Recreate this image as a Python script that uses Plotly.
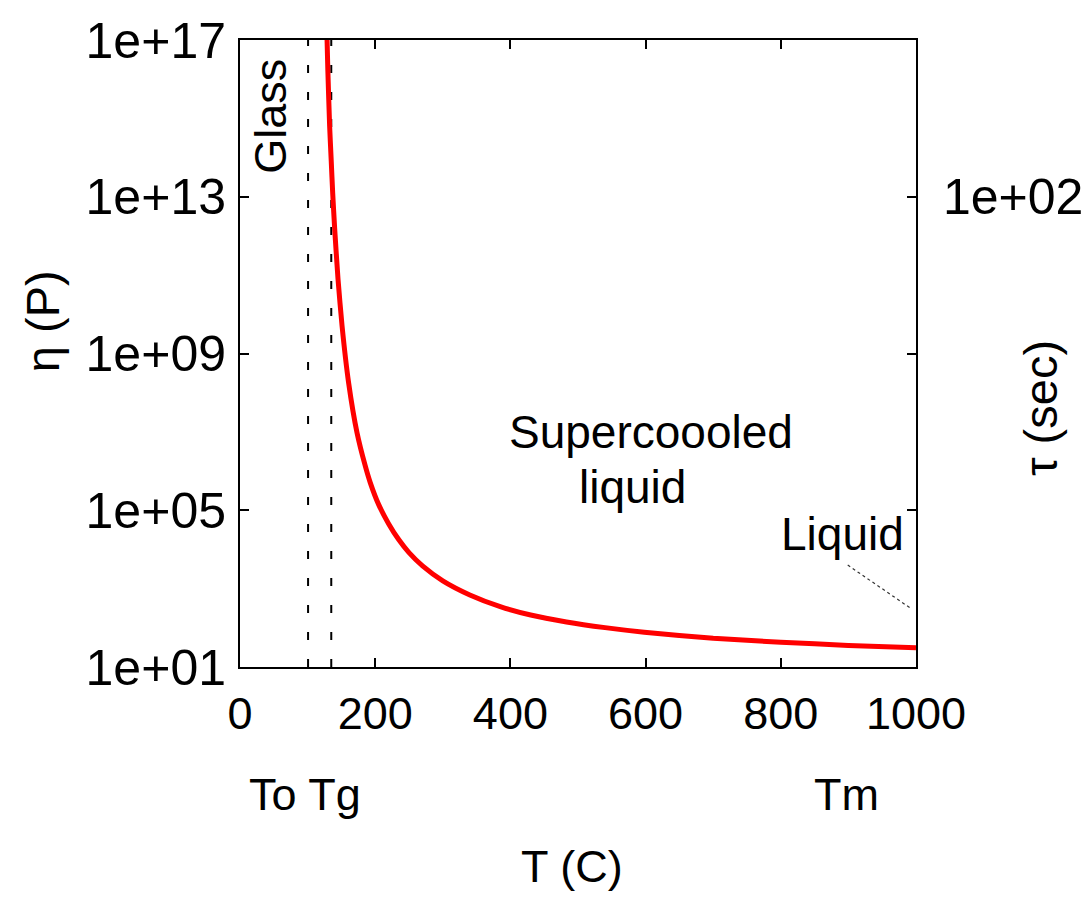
import plotly.graph_objects as go

# Curve values: temperature (C) and viscosity (P)
T_curve = [128.8, 130.0, 132.6, 135.0, 137.1, 140.0, 145.0, 151.0, 160.7, 173.1, 185.0,
           192.8, 205.0, 220.0, 235.0, 250.0, 270.0, 300.0, 340.0, 385.0, 430.0,
           483.0, 540.0, 598.0, 700.0, 800.0, 900.0, 1000.0]
eta_curve = [1e17, 1.58e16, 6.3e14, 7.9e13, 1.26e13, 1.58e12, 7.9e10, 5.0e9, 1.78e8, 9.5e6, 1.41e6,
             5.0e5, 1.41e5, 4.47e4, 1.76e4, 8.3e3, 3.8e3, 1.58e3, 6.9e2, 3.47e2, 2.12e2,
             1.41e2, 101, 77, 54, 43, 35.5, 31]

T_o = 100.7
T_g = 135.0
y_min, y_max = 10, 1e17

x_ticks = [0, 200, 400, 600, 800, 1000]
y_ticks = [1e1, 1e5, 1e9, 1e13, 1e17]
y_tick_text = ["1e+01", "1e+05", "1e+09", "1e+13", "1e+17"]

FONT = "Liberation Sans, Arial, Helvetica, sans-serif"
FS = 45
FSY = 50

fig = go.Figure()

for tv in (T_o, T_g):
    fig.add_trace(go.Scatter(x=[tv, tv], y=[y_min, y_max], mode="lines",
                             line=dict(color="black", width=2, dash="8px,19px"),
                             showlegend=False, hoverinfo="skip"))

fig.add_trace(go.Scatter(x=T_curve, y=eta_curve, mode="lines",
                         line=dict(color="#ff0000", width=5, shape="spline", smoothing=0.6),
                         showlegend=False))

L, R, T, B = 239.5, 170, 30, 231
W, H = 1086, 898
pw = W - L - R
ph = H - T - B

def px(x):
    return (x - L) / pw

def py(y):
    return (H - B - y) / ph

ann = []
def txt(text, x, y, xref="paper", yref="paper", angle=0, xanchor="center", yanchor="middle", size=FS):
    ann.append(dict(text=text, x=x, y=y, xref=xref, yref=yref, showarrow=False,
                    textangle=angle, xanchor=xanchor, yanchor=yanchor,
                    font=dict(family=FONT, size=size, color="black")))

txt("η (P)", px(42), py(316), angle=-90, size=47)
txt("τ (sec)", px(1040), py(404), angle=-90, size=47)
txt("T (C)", px(572), py(870))
txt("To Tg", px(247), py(797), xanchor="left")
txt("Tm", px(846), py(797))
txt("1e+02", px(1085), py(190), xanchor="right", size=FSY)
txt("Glass", 45, 15.05, xref="x", yref="y", angle=-90)
txt("Supercoooled", 608, 7.0, xref="x", yref="y", size=46)
txt("liquid", 580, 5.6, xref="x", yref="y", size=46)
txt("Liquid", 891, 4.39, xref="x", yref="y", size=46)

# dotted arrow to the liquid region
fig.add_shape(type="line", x0=899, y0=10**3.6, x1=992, y1=10**2.50,
              xref="x", yref="y", line=dict(color="#333", width=1.2, dash="dot"))
ann.append(dict(x=1000, y=10**2.43, xref="x", yref="y", ax=-14, ay=-10,
                showarrow=True, arrowhead=2, arrowsize=1.2, arrowwidth=1,
                arrowcolor="#555", text=""))

fig.update_layout(
    width=W, height=H,
    margin=dict(l=L, r=R, t=T, b=B, pad=0),
    paper_bgcolor="white", plot_bgcolor="white",
    font=dict(family=FONT, size=FS, color="black"),
    annotations=ann,
    showlegend=False,
)
fig.update_xaxes(range=[0, 1000], tickvals=x_ticks, ticks="inside", ticklen=9, tickwidth=1.5,
                 tickcolor="black", showgrid=False, zeroline=False, showline=True,
                 linecolor="black", linewidth=2, mirror="ticks",
                 ticklabelstandoff=6, tickfont=dict(family=FONT, size=FS))
fig.update_yaxes(type="log", range=[1, 17], tickvals=y_ticks, ticktext=y_tick_text,
                 ticks="inside", ticklen=9, tickwidth=1.5, tickcolor="black",
                 showgrid=False, zeroline=False, showline=True, linecolor="black",
                 linewidth=2, mirror="ticks", ticklabelstandoff=2,
                 tickfont=dict(family=FONT, size=FSY))

fig.write_html("out.html")
